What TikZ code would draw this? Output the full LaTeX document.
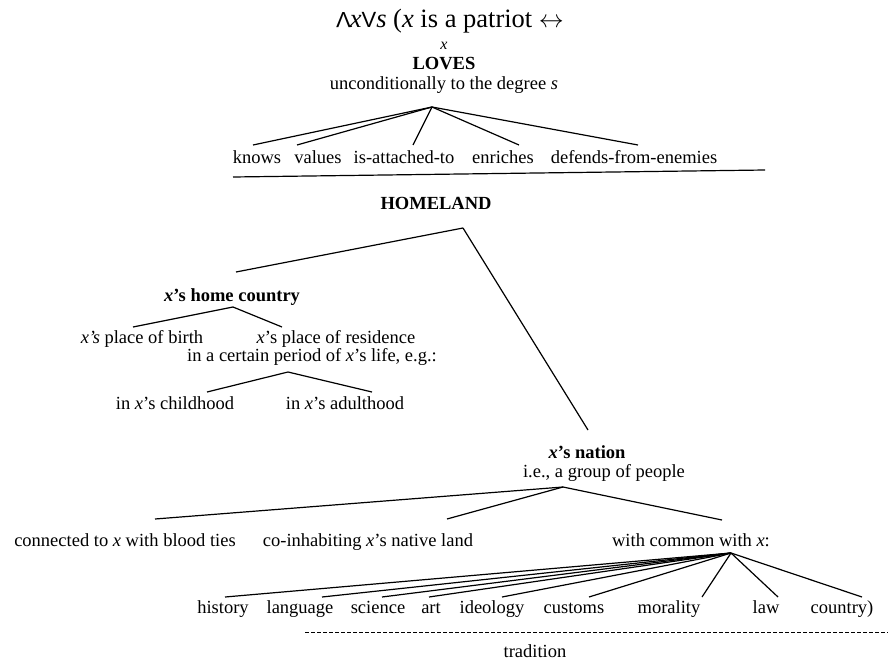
\documentclass[tikz,border=0pt]{standalone}
\usepackage{fontspec}
\usepackage{graphicx}
\setmainfont{Liberation Serif}
\newfontfamily\symf{Liberation Sans}
\begin{document}
\begin{tikzpicture}[x=1pt,y=-1pt,
  txt/.style={inner sep=0pt,anchor=base,font=\fontsize{18.5}{20}\selectfont},
  bld/.style={inner sep=0pt,anchor=base,font=\fontsize{18.5}{20}\selectfont\bfseries},
  ln/.style={line width=1.2pt},
  dsh/.style={line width=1pt,dash pattern=on 4pt off 2pt}]
\useasboundingbox (0,0) rectangle (888,661);
% top
\node[inner sep=0pt,anchor=base,font=\fontsize{26.5}{28}\selectfont] (top) at (450,28) {{\symf\fontsize{22}{24}\selectfont\rotatebox[origin=c]{180}{V}}\kern-1pt\textit{x}{\symf\fontsize{22}{24}\selectfont V}\textit{s} (\textit{x} is a patriot $\leftrightarrow$};
\node[inner sep=0pt,anchor=base,font=\fontsize{16}{18}\selectfont\itshape] (x) at (444,49) {x};
\node[bld] (loves) at (444,70) {LOVES};
\node[txt] (uncond) at (444,89) {unconditionally to the degree \textit{s}};
\coordinate (a1) at (432,107);
\node[txt] (knows) at (257,163) {knows};
\node[txt] (values) at (318,163) {values};
\node[txt] (attached) at (404,163) {is-attached-to};
\node[txt] (enriches) at (503,163) {enriches};
\node[txt] (defends) at (634,163) {defends-from-enemies};
\coordinate (e1) at (253,145);
\coordinate (e2) at (297,145);
\coordinate (e3) at (413,145);
\coordinate (e4) at (519,145);
\coordinate (e5) at (638,145);
\foreach \e in {e1,e2,e3,e4,e5} \draw[ln] (a1) -- (\e);
\coordinate (r1) at (233,177);
\coordinate (r2) at (765,170);
\draw[ln] (r1) -- (r2);
% homeland
\node[bld] (homeland) at (436,209) {HOMELAND};
\coordinate (a2) at (463,228);
\coordinate (f1) at (236,272);
\coordinate (f2) at (588,430);
\draw[ln] (a2) -- (f1);
\draw[ln] (a2) -- (f2);
% home country
\node[bld] (home) at (232,301) {\textit{x}’s home country};
\coordinate (a3) at (233,307);
\coordinate (g1) at (133,327);
\coordinate (g2) at (282,327);
\draw[ln] (a3) -- (g1);
\draw[ln] (a3) -- (g2);
\node[txt] (birth) at (142,343) {\textit{x’s} place of birth};
\node[txt] (residence) at (336,343) {\textit{x}’s place of residence};
\node[txt] (period) at (312,361) {in a certain period of \textit{x}’s life, e.g.:};
\coordinate (a4) at (288,372);
\coordinate (h1) at (207,392);
\coordinate (h2) at (372,392);
\draw[ln] (a4) -- (h1);
\draw[ln] (a4) -- (h2);
\node[txt] (child) at (175,409) {in \textit{x}’s childhood};
\node[txt] (adult) at (345,409) {in \textit{x}’s adulthood};
% nation
\node[bld] (nation) at (587,458) {\textit{x}’s nation};
\node[txt] (group) at (604,477) {i.e., a group of people};
\coordinate (a5) at (563,487);
\coordinate (k1) at (155,519);
\coordinate (k2) at (447,519);
\coordinate (k3) at (722,520);
\foreach \e in {k1,k2,k3} \draw[ln] (a5) -- (\e);
\node[txt] (blood) at (125,546) {connected to \textit{x} with blood ties};
\node[txt] (coinhab) at (368,546) {co-inhabiting \textit{x}’s native land};
\node[txt] (common) at (691,546) {with common with \textit{x}:};
\coordinate (a6) at (731,553);
\foreach \n/\xx in {m1/225,m2/322,m3/382,m4/429,m5/502,m6/589,m7/702,m8/778,m9/862}
  \coordinate (\n) at (\xx,597);
\foreach \e in {m1,m2,m3,m4,m5,m6,m7,m8,m9} \draw[ln] (a6) -- (\e);
\node[txt] (history) at (223,613) {history};
\node[txt] (language) at (300,613) {language};
\node[txt] (science) at (378,613) {science};
\node[txt] (art) at (431,613) {art};
\node[txt] (ideology) at (492,613) {ideology};
\node[txt] (customs) at (574,613) {customs};
\node[txt] (morality) at (669,613) {morality};
\node[txt] (law) at (766,613) {law};
\node[txt] (country) at (842,613) {country)};
\coordinate (d1) at (305,632);
\coordinate (d2) at (888,632);
\draw[dsh] (d1) -- (d2);
\node[txt] (tradition) at (535,657) {tradition};
\end{tikzpicture}
\end{document}
